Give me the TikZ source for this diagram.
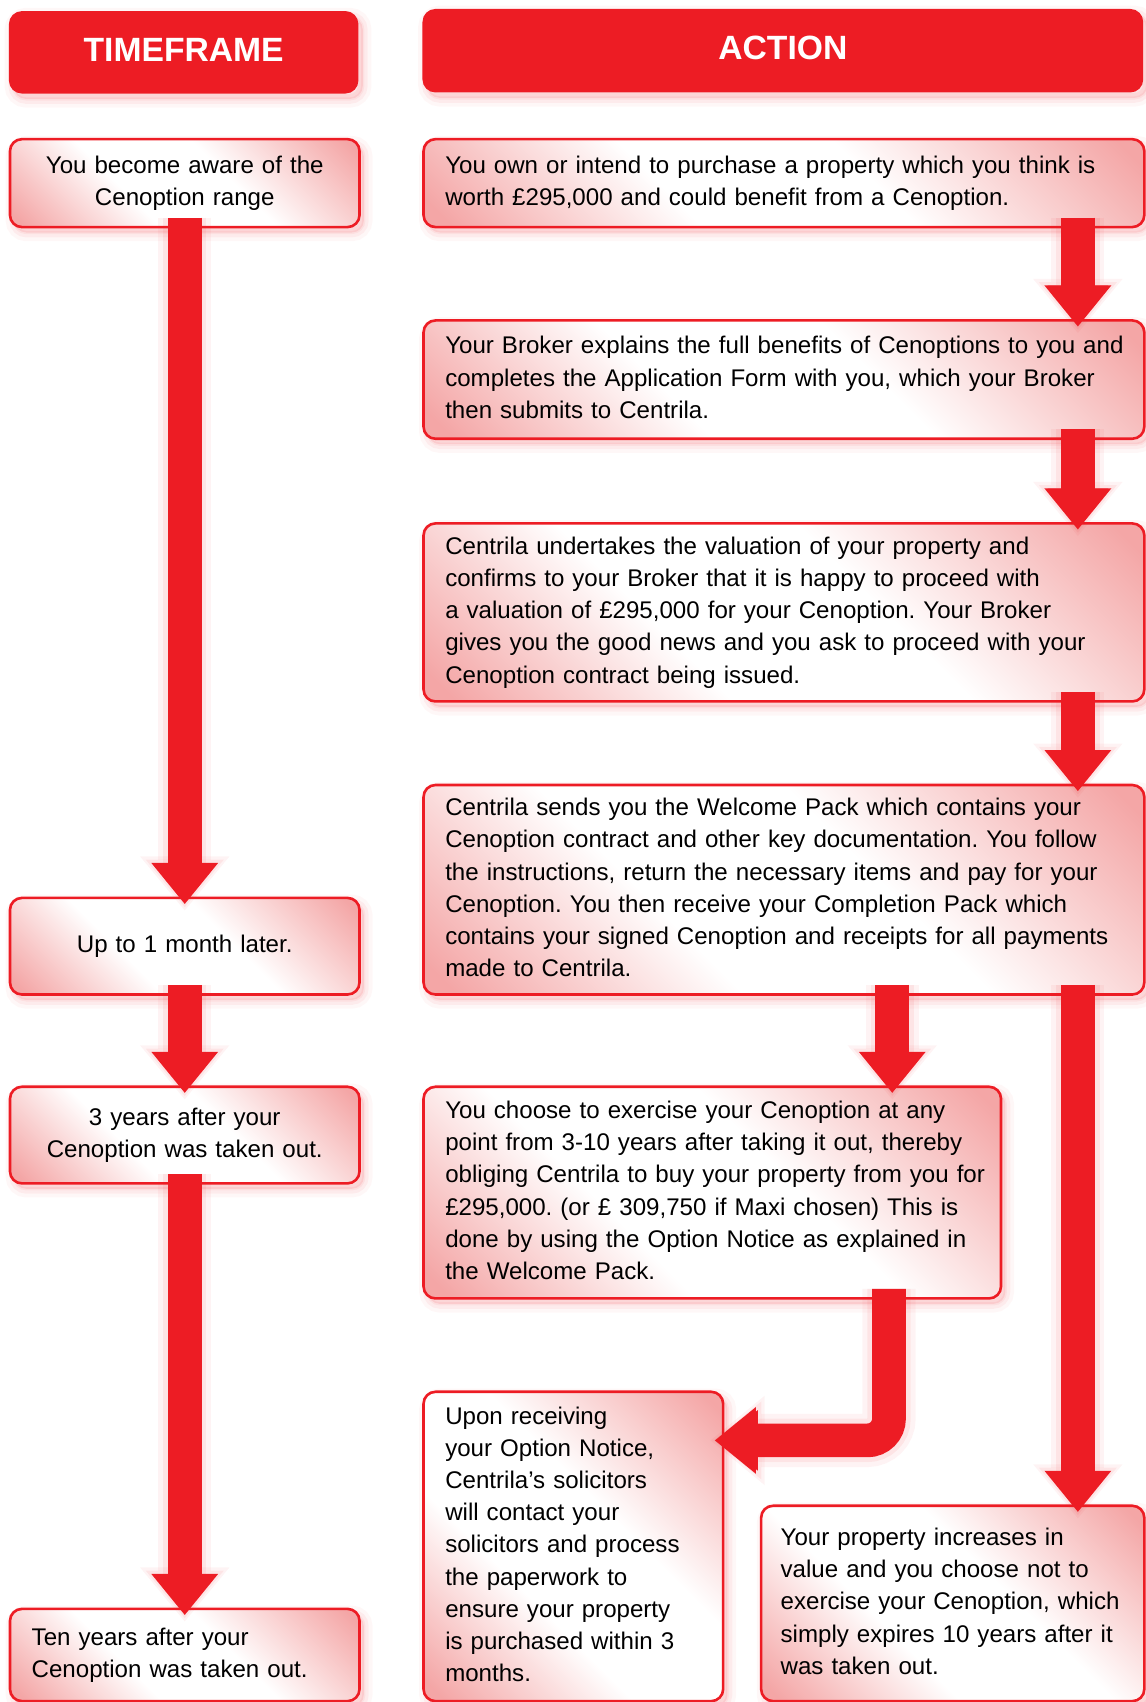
\documentclass[tikz,border=0pt]{standalone}
\usepackage{fontspec}
\setmainfont{Liberation Sans}
\frenchspacing
\usetikzlibrary{arrows.meta,shadows}
\definecolor{cred}{RGB}{237,28,36}
\definecolor{cpink}{RGB}{244,166,166}
\pgfdeclarehorizontalshading{boxshade}{100bp}{color(0bp)=(cpink); color(17bp)=(cpink); color(39bp)=(white); color(58bp)=(white); color(83bp)=(cpink); color(100bp)=(cpink)}
\tikzset{
  softshadow/.style={
    general shadow={draw=cred, line width=16pt, draw opacity=0.035, shadow xshift=4pt, shadow yshift=-5pt},
    general shadow={draw=cred, line width=9pt, draw opacity=0.05, shadow xshift=4pt, shadow yshift=-5pt},
    general shadow={draw=cred, line width=3pt, draw opacity=0.06, fill=cred, fill opacity=0.10, shadow xshift=4pt, shadow yshift=-5pt}
  },
  box/.style={draw=cred, line width=2.4pt, rounded corners=11pt,
    shade, shading=boxshade, shading angle=45,
    inner xsep=20pt, inner ysep=0pt, anchor=north west, text=black,
    font=\fontsize{22.2}{29.6}\selectfont, softshadow},
  head/.style={fill=cred, rounded corners=12pt, text=white, anchor=north west,
    font=\fontsize{31}{36}\selectfont\bfseries, inner sep=0pt, softshadow},
  flow/.style={draw=cred, line width=31pt, -{Triangle[width=59pt,length=38pt]},
    shorten <=-10pt, shorten >=-7pt,
    preaction={draw=cred, draw opacity=0.05, line width=49pt,
      -{Triangle[width=79pt,length=50pt]}, shorten <=-10pt, shorten >=-13pt},
    preaction={draw=cred, draw opacity=0.07, line width=40pt,
      -{Triangle[width=69pt,length=44pt]}, shorten <=-10pt, shorten >=-10pt}}
}
\begin{document}
\begin{tikzpicture}[x=1pt,y=-1pt]
\useasboundingbox (0,0) rectangle (1055,1568);
% headers
\node[head, minimum width=322pt, minimum height=76pt] (h1) at (8,10) {\raisebox{5pt}{TIMEFRAME}};
\node[head, minimum width=664pt, minimum height=77pt] (h2) at (389,8) {\raisebox{5pt}{ACTION}};
% timeframe column
\node[box, minimum width=322pt, minimum height=81pt, text width=282pt, align=center] (t1) at (8,127)
  {You become aware of the\\Cenoption range};
\node[box, minimum width=322pt, minimum height=89pt, text width=282pt, align=center] (t2) at (8,826)
  {Up to 1 month later.};
\node[box, minimum width=322pt, minimum height=89pt, text width=282pt, align=center] (t3) at (8,1000)
  {3 years after your\\Cenoption was taken out.};
\node[box, minimum width=322pt, minimum height=85pt, text width=282pt, align=left] (t4) at (8,1481)
  {\begin{tabular}{@{}l@{}}Ten years after your\\Cenoption was taken out.\end{tabular}};
% action column
\node[box, minimum width=664pt, minimum height=81pt, text width=624pt, align=left] (a1) at (389,127)
  {\begin{tabular}{@{}l@{}}You own or intend to purchase a property which you think is\\worth £295,000 and could benefit from a Cenoption.\end{tabular}};
\node[box, minimum width=664pt, minimum height=109pt, text width=624pt, align=left] (a2) at (389,294)
  {\begin{tabular}{@{}l@{}}Your Broker explains the full benefits of Cenoptions to you and\\completes the Application Form with you, which your Broker\\then submits to Centrila.\end{tabular}};
\node[box, minimum width=664pt, minimum height=164pt, text width=624pt, align=left] (a3) at (389,481)
  {\begin{tabular}{@{}l@{}}Centrila undertakes the valuation of your property and\\confirms to your Broker that it is happy to proceed with\\a valuation of £295,000 for your Cenoption. Your Broker\\gives you the good news and you ask to proceed with your\\Cenoption contract being issued.\end{tabular}};
\node[box, minimum width=664pt, minimum height=193pt, text width=624pt, align=left] (a4) at (389,722)
  {\begin{tabular}{@{}l@{}}Centrila sends you the Welcome Pack which contains your\\Cenoption contract and other key documentation. You follow\\the instructions, return the necessary items and pay for your\\Cenoption. You then receive your Completion Pack which\\contains your signed Cenoption and receipts for all payments\\made to Centrila.\end{tabular}};
\node[box, minimum width=532pt, minimum height=195pt, text width=492pt, align=left] (a5) at (389,1000)
  {\begin{tabular}{@{}l@{}}You choose to exercise your Cenoption at any\\point from 3-10 years after taking it out, thereby\\obliging Centrila to buy your property from you for\\£295,000. (or £ 309,750 if Maxi chosen) This is\\done by using the Option Notice as explained in\\the Welcome Pack.\end{tabular}};
\node[box, minimum width=276pt, minimum height=285pt, text width=236pt, align=left] (a6) at (389,1281)
  {\begin{tabular}{@{}l@{}}Upon receiving\\your Option Notice,\\Centrila’s solicitors\\will contact your\\solicitors and process\\the paperwork to\\ensure your property\\is purchased within 3\\months.\end{tabular}};
\node[box, minimum width=353pt, minimum height=180pt, text width=317pt, inner xsep=18pt, align=left] (a7) at (700,1386)
  {\begin{tabular}{@{}l@{}}Your property increases in\\value and you choose not to\\exercise your Cenoption, which\\simply expires 10 years after it\\was taken out.\end{tabular}};
% arrow columns
\coordinate (cR) at (993,0);
\coordinate (cM) at (822,0);
\coordinate (bend) at (819,1327);
% connectors
\draw[flow] (t1.south) -- (t2.north);
\draw[flow] (t2.south) -- (t3.north);
\draw[flow] (t3.south) -- (t4.north);
\draw[flow] (a1.south -| cR) -- (a2.north -| cR);
\draw[flow] (a2.south -| cR) -- (a3.north -| cR);
\draw[flow] (a3.south -| cR) -- (a4.north -| cR);
\draw[flow] (a4.south -| cM) -- (a5.north -| cM);
\draw[flow] (a4.south -| cR) -- (a7.north -| cR);
\draw[flow, rounded corners=20pt, shorten >=-9pt] (a5.south -| bend) -- (bend) -- (a6.east |- bend);
\end{tikzpicture}
\end{document}
